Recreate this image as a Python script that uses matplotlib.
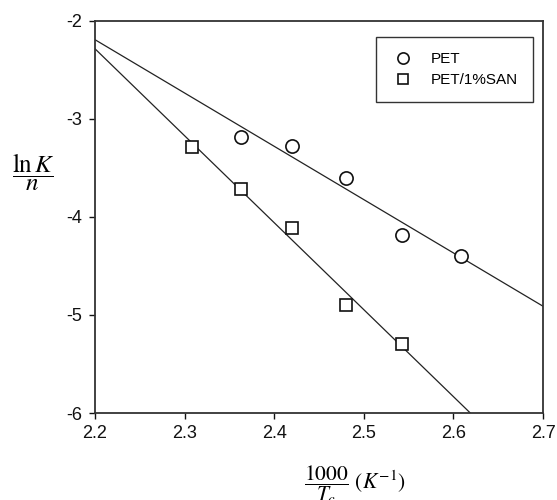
import numpy as np
import matplotlib
matplotlib.use("Agg")
import matplotlib.pyplot as plt

plt.rcParams['font.family'] = ['Liberation Sans', 'DejaVu Sans']
plt.rcParams['mathtext.fontset'] = 'stix'

pet_x = [2.363, 2.420, 2.480, 2.543, 2.609]
pet_y = [-3.19, -3.276, -3.605, -4.187, -4.401]
san_x = [2.308, 2.363, 2.420, 2.480, 2.543]
san_y = [-3.289, -3.714, -4.109, -4.901, -5.296]
x_ticks = [2.2, 2.3, 2.4, 2.5, 2.6, 2.7]
y_ticks = [-2, -3, -4, -5, -6]

W, H = 557, 500
L, R, T, B = 95, 543, 20.7, 413
fig = plt.figure(figsize=(W / 100, H / 100), dpi=100)
ax = fig.add_axes([L / W, (H - B) / H, (R - L) / W, (B - T) / H])

xfit = np.linspace(2.2, 2.7, 200)
for xs, ys in [(pet_x, pet_y), (san_x, san_y)]:
    k, b = np.polyfit(xs, ys, 1)
    ax.plot(xfit, k * xfit + b, color='#222222', lw=0.9, zorder=2)

ax.plot(pet_x, pet_y, 'o', ms=9.5, mfc='white', mec='#111111', mew=1.2, ls='none', label='PET', zorder=3)
ax.plot(san_x, san_y, 's', ms=9, mfc='white', mec='#111111', mew=1.2, ls='none', label='PET/1%SAN', zorder=3)

ax.set_xlim(2.2, 2.7)
ax.set_ylim(-6, -2)
ax.set_xticks(x_ticks)
ax.set_xticklabels([f'{v:.1f}' for v in x_ticks])
ax.set_yticks(y_ticks)
ax.set_yticklabels([f'{v:d}' for v in y_ticks])
ax.tick_params(direction='out', length=4, width=1, labelsize=13, colors='#111111', pad=5)
for s in ax.spines.values():
    s.set_linewidth(1.3)
    s.set_color('#333333')

leg = ax.legend(loc='upper right', bbox_to_anchor=(533 / W, 1 - 37 / H), bbox_transform=fig.transFigure,
                fancybox=False, framealpha=1, edgecolor='#333333', fontsize=11, markerscale=0.85,
                borderpad=1.0, handlelength=1.6, handletextpad=1.0, labelspacing=0.45, borderaxespad=0)
leg.get_frame().set_linewidth(1.0)

fig.text(33 / W, 1 - 172 / H, r'$\dfrac{\ln K}{n}$', fontsize=18, ha='center', va='center')
fig.text(355 / W, 1 - 485 / H, r'$\dfrac{1000}{T_c}\ (K^{-1})$', fontsize=15.5, ha='center', va='center')

fig.savefig('out.png', dpi=100)
